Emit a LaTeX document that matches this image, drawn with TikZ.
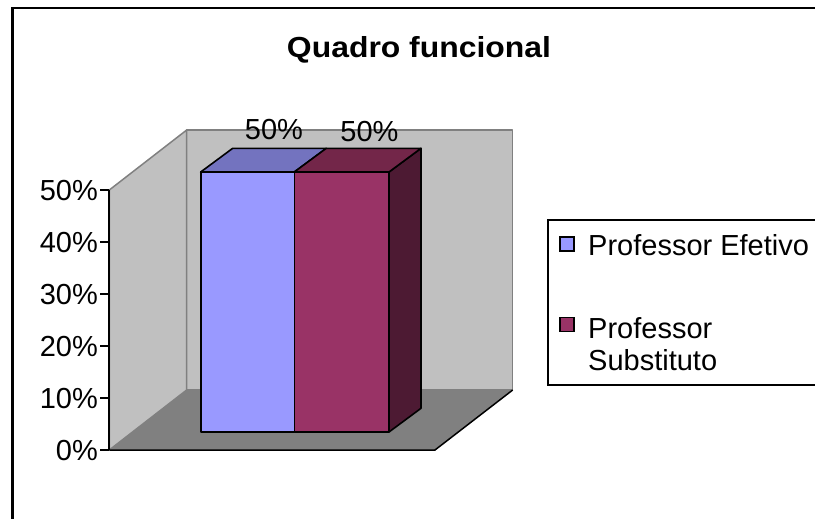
\documentclass[tikz,border=0pt]{standalone}
\usepackage{fontspec}
\setmainfont{Liberation Sans}
\newfontfamily\chartfont{Liberation Sans}
\newfontfamily\titlefont[FakeStretch=1.1]{Liberation Sans}

\definecolor{wallgray}{HTML}{C0C0C0}
\definecolor{floorgray}{HTML}{808080}
\definecolor{efetfront}{HTML}{9999FF}
\definecolor{efettop}{HTML}{7373BF}
\definecolor{substfront}{HTML}{993366}
\definecolor{substtop}{HTML}{732649}
\definecolor{substside}{HTML}{4D1A33}

\begin{document}
\begin{tikzpicture}[x=1pt,y=-1pt,
  wall/.style={fill=wallgray,draw=floorgray,line width=1.5pt,line join=round},
  face/.style={draw=black,line width=1.6pt,line join=round},
  lbl/.style={inner sep=0pt,font=\chartfont\fontsize{29}{32}\selectfont},
  key/.style={draw=black,line width=1.2pt,minimum width=14pt,minimum height=14pt,inner sep=0pt}]
\useasboundingbox (0,0) rectangle (815,519);

% frame
\draw [line width=2.6pt] (12.5,525) -- (12.5,8) -- (825,8);
\node [inner sep=0pt,anchor=base,font=\titlefont\bfseries\fontsize{29}{32}\selectfont] (title) at (419,58) {Quadro funcional};

% walls and floor
\draw [wall] (186.7,130) rectangle (512.7,390);
\draw [wall] (109.3,190) -- (186.7,130) -- (186.7,390) -- (109.3,450) -- cycle;
\fill [floorgray] (109.3,450) -- (186.7,390) -- (512.7,390) -- (435,450) -- cycle;
\draw [line width=1.5pt] (109.3,450) -- (435,450) -- (512.7,390);
\draw [line width=1.8pt] (109.3,190) -- (109.3,450);

% axis
\foreach \v [count=\i from 0] in {0,10,20,30,40,50} {
  \draw [line width=1.2pt] (100,450-52*\i) -- (109.3,450-52*\i);
  \node [lbl,anchor=base east] (tick\v) at (98,460.5-52*\i) {\v\%};
}

% bars
\draw [face,fill=substside] (389,432) -- (421,408.3) -- (421,148.3) -- (389,172) -- cycle;
\draw [face,fill=efettop] (200.7,172) -- (232.7,148.3) -- (326.3,148.3) -- (294.3,172) -- cycle;
\draw [face,fill=substtop] (294.3,172) -- (326.3,148.3) -- (421,148.3) -- (389,172) -- cycle;
\draw [face,fill=efetfront] (200.7,172) rectangle (294.3,432);
\draw [face,fill=substfront] (294.3,172) rectangle (389,432);

\node [lbl,anchor=base] (efetval) at (274,139.5) {50\%};
\node [lbl,anchor=base] (substval) at (369.5,141.5) {50\%};

% legend
\draw [line width=1.2pt] (825,385) -- (548,385) -- (548,220) -- (825,220);
\node [key,fill=efetfront] (efetkey) at (567,244) {};
\node [key,fill=substfront] (substkey) at (567,324.5) {};
\node [lbl,anchor=base west] (efetname) at (588,255) {Professor Efetivo};
\node [lbl,anchor=base west] (substname) at (588,338) {Professor};
\node [lbl,anchor=base west] (substname2) at (588,370) {Substituto};
\end{tikzpicture}
\end{document}
